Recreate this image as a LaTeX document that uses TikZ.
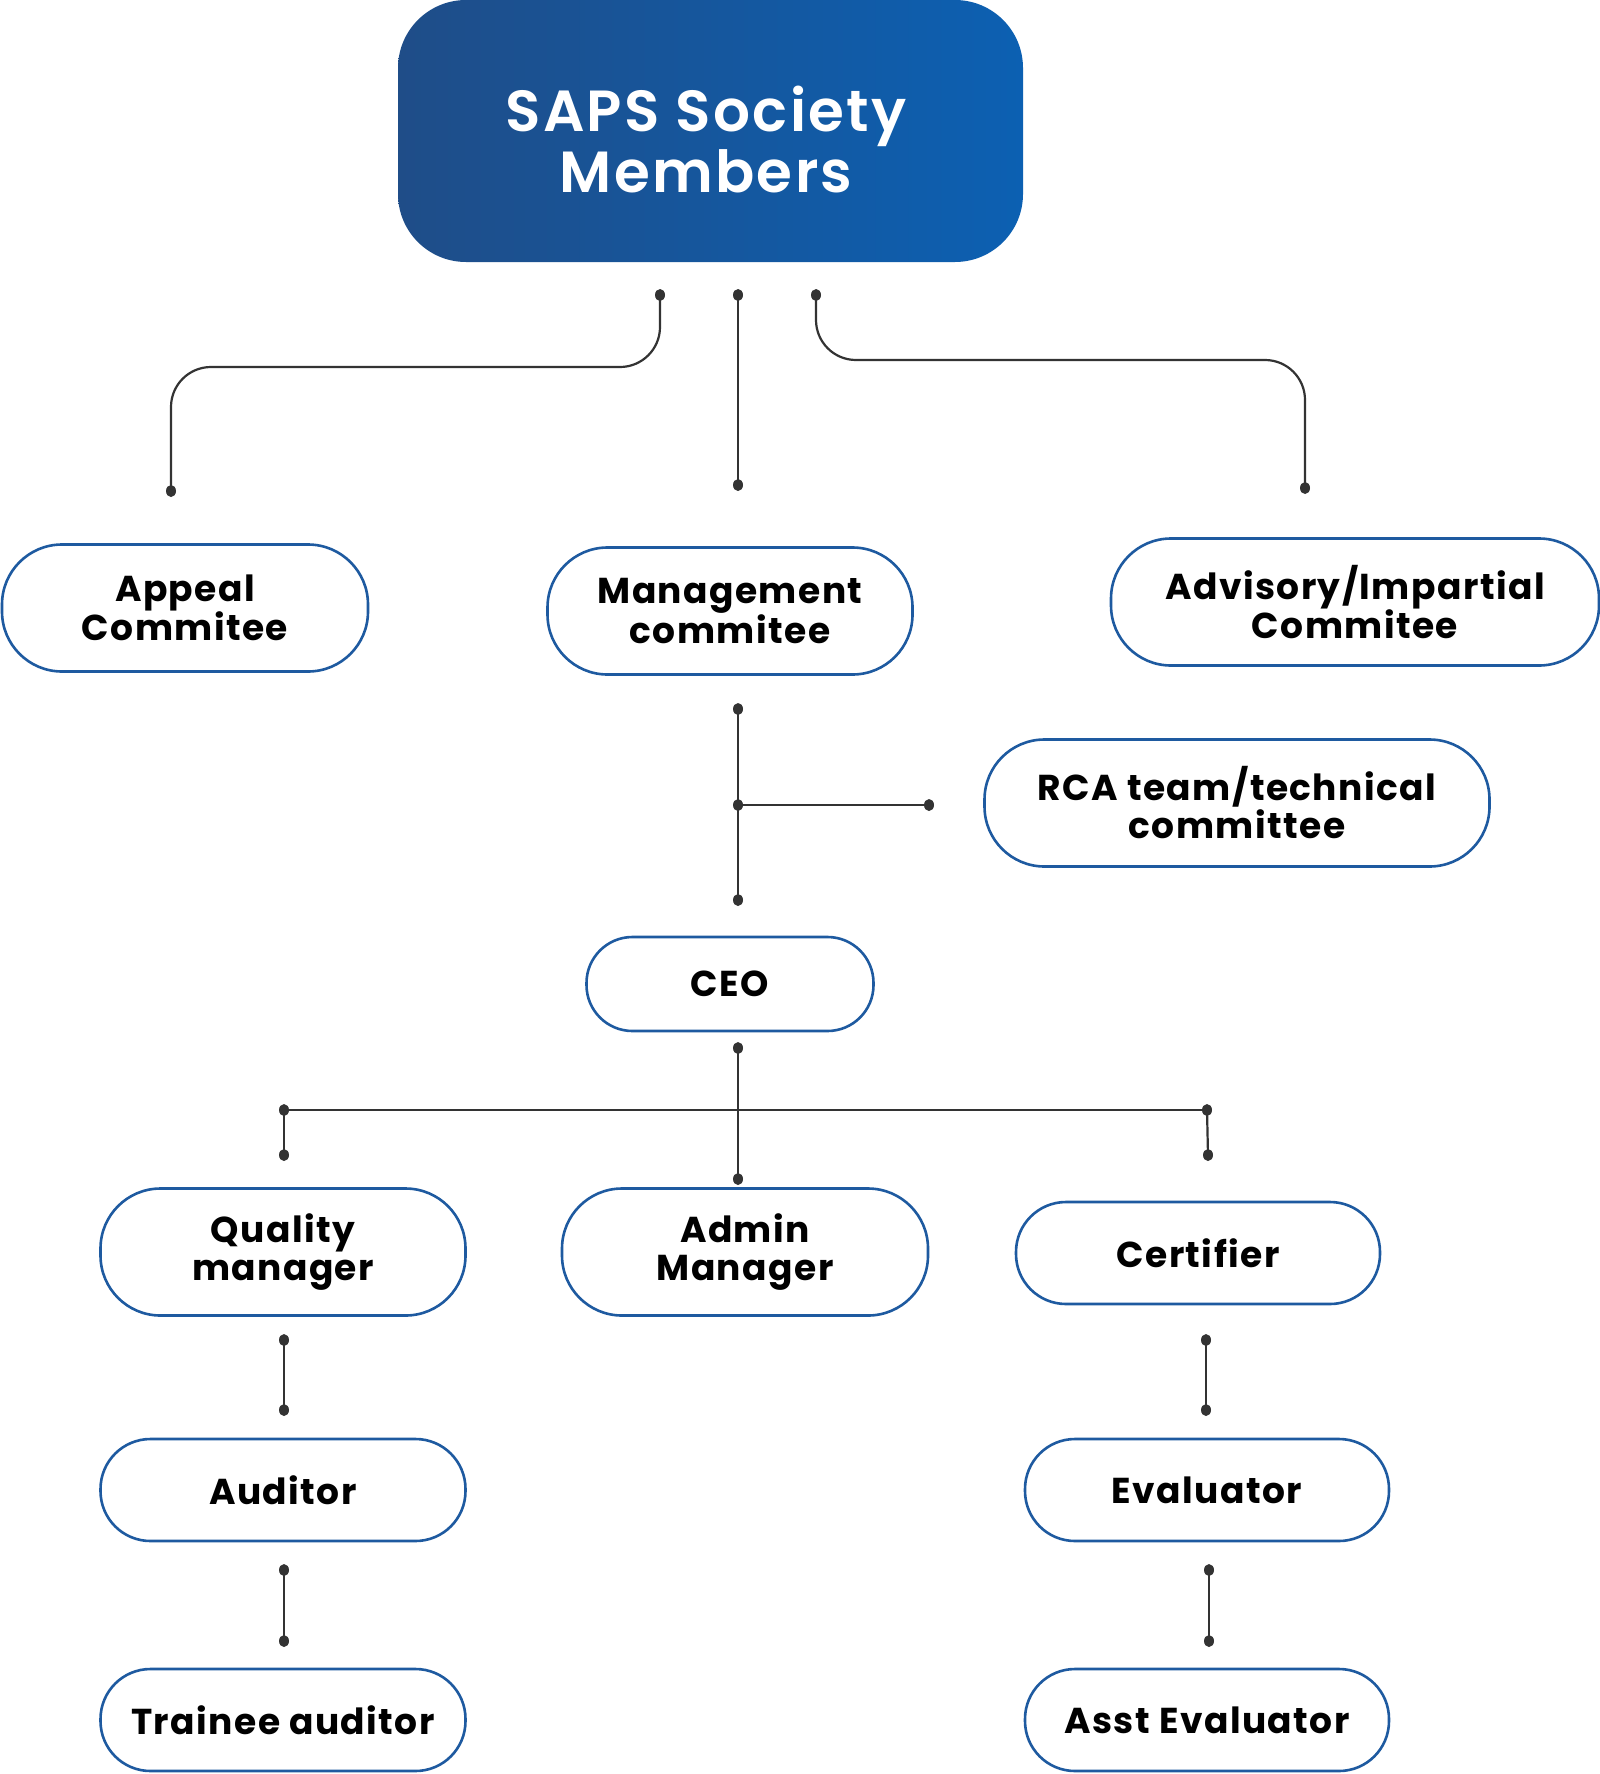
\documentclass[tikz,border=0pt]{standalone}
\usepackage{fontspec}
\setmainfont{Poppins}[LetterSpace=4]
\newfontfamily\titlefont{Poppins SemiBold}[LetterSpace=4]
\definecolor{boxblue}{HTML}{1E5AA0}
\definecolor{gradL}{HTML}{1F4D88}
\definecolor{gradR}{HTML}{0C60B2}
\definecolor{linegray}{HTML}{333333}
\tikzset{
  pill/.style={draw=boxblue, line width=2.6pt, fill=white, inner sep=0pt, align=center,
    font=\fontsize{36}{38}\selectfont\bfseries, text=black},
  twol/.style={pill, minimum height=127pt, rounded corners=60pt},
  onel/.style={pill, minimum height=102pt, rounded corners=50pt},
  conn/.style={draw=linegray, line width=2.2pt},
  dot/.style={fill=linegray},
}
\newcommand{\dotat}[1]{\fill[dot] (#1) ellipse (5pt and 6pt);}
\begin{document}
\begin{tikzpicture}[x=1pt,y=-1pt]
\useasboundingbox (0,0) rectangle (1600,1774);
% top box
\path[left color=gradL, right color=gradR, rounded corners=68pt] (398,0) rectangle (1023,262);
\node[inner sep=0pt, align=center, text=white,
  font=\fontsize{58}{61}\titlefont] (top) at (706,140) {SAPS Society\\Members};
% level 1 nodes
\node[twol, minimum width=366pt] (appeal) at (185,608) {Appeal\\Commitee};
\node[twol, minimum width=365pt] (mgmt) at (730,611) {Management\\commitee};
\node[twol, minimum width=488pt] (adv) at (1355,602) {Advisory/Impartial\\Commitee};
\node[twol, minimum width=505pt] (rca) at (1237,803) {RCA team/technical\\committee};
\node[pill, minimum width=287pt, minimum height=94pt, rounded corners=46pt] (ceo) at (730,984) {CEO};
\node[twol, minimum width=365pt] (qm) at (283,1252) {Quality\\manager};
\node[twol, minimum width=366pt] (am) at (745,1252) {Admin\\Manager};
\node[onel, minimum width=364pt] (cert) at (1198,1253) {Certifier};
\node[onel, minimum width=365pt] (aud) at (283,1490) {Auditor};
\node[onel, minimum width=364pt] (eval) at (1207,1490) {Evaluator};
\node[onel, minimum width=365pt] (trainee) at (283,1720) {Trainee auditor};
\node[onel, minimum width=364pt] (asst) at (1207,1720) {Asst Evaluator};
% connector coordinates
\coordinate (t1) at (660,295);
\coordinate (t2) at (738,295);
\coordinate (t3) at (816,295);
\coordinate (b1) at (171,491);
\coordinate (b2) at (738,485);
\coordinate (b3) at (1305,488);
\coordinate (m1) at (738,709);
\coordinate (m2) at (738,805);
\coordinate (m3) at (929,805);
\coordinate (m4) at (738,900);
\coordinate (c1) at (738,1048);
\coordinate (c2) at (738,1179);
\coordinate (hl) at (284,1110);
\coordinate (hr) at (1207,1110);
\coordinate (dl) at (284,1155);
\coordinate (dr) at (1208,1155);
\coordinate (q1) at (284,1340);
\coordinate (q2) at (284,1410);
\coordinate (e1) at (1206,1340);
\coordinate (e2) at (1206,1410);
\coordinate (a1) at (284,1570);
\coordinate (a2) at (284,1641);
\coordinate (v1) at (1209,1570);
\coordinate (v2) at (1209,1641);
% connectors
\draw[conn, rounded corners=40pt] (t1) -- (t1 |- 0,367) -- (b1 |- 0,367) -- (b1);
\draw[conn] (t2) -- (b2);
\draw[conn, rounded corners=40pt] (t3) -- (t3 |- 0,360) -- (b3 |- 0,360) -- (b3);
\draw[conn] (m1) -- (m4);
\draw[conn] (m2) -- (m3);
\draw[conn] (c1) -- (c2);
\draw[conn] (hl) -- (hr);
\draw[conn] (hl) -- (dl);
\draw[conn] (hr) -- (dr);
\draw[conn] (q1) -- (q2);
\draw[conn] (e1) -- (e2);
\draw[conn] (a1) -- (a2);
\draw[conn] (v1) -- (v2);
% dots
\foreach \p in {t1,t2,t3,b1,b2,b3,m1,m2,m3,m4,c1,c2,hl,hr,dl,dr,q1,q2,e1,e2,a1,a2,v1,v2}{\dotat{\p}}
\end{tikzpicture}
\end{document}
